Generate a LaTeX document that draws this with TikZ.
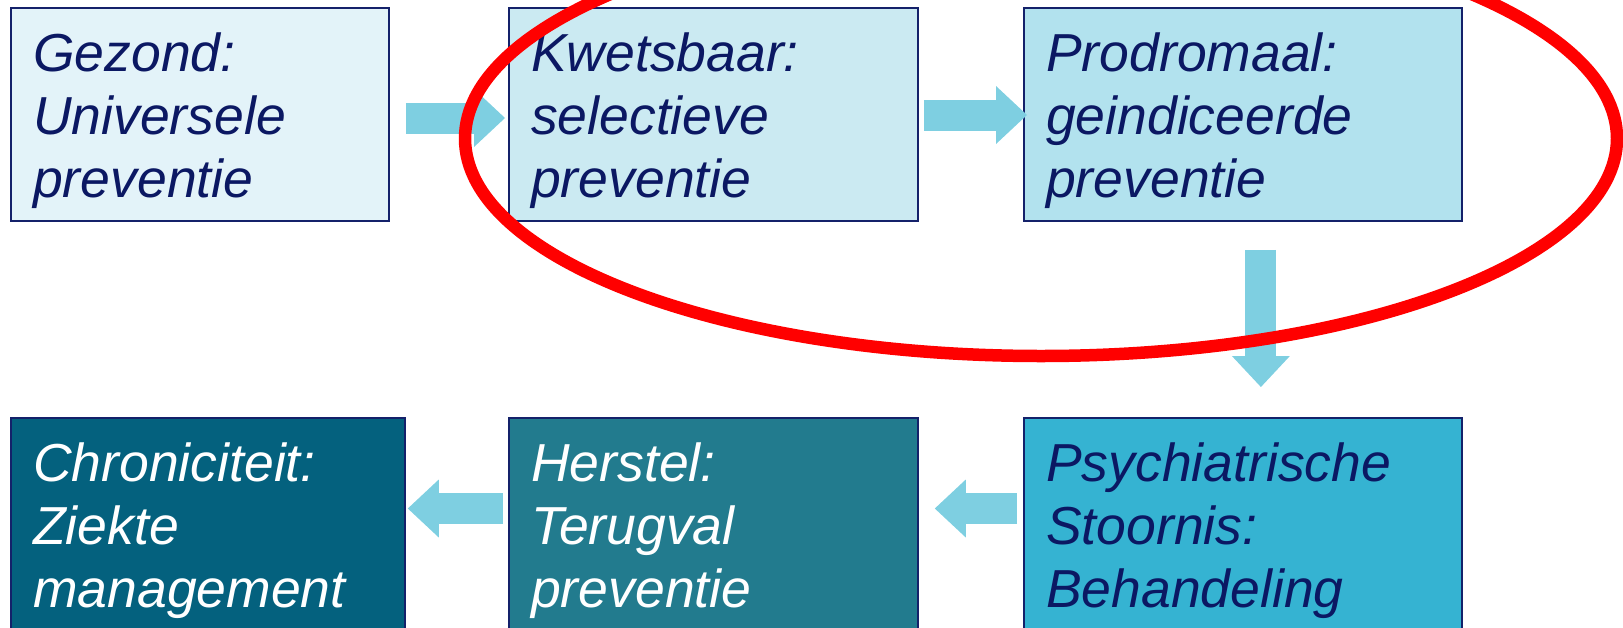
\documentclass[tikz,border=0pt]{standalone}
\usepackage{fontspec}
\setmainfont{Liberation Sans}
\usetikzlibrary{arrows.meta}
\definecolor{fillA}{HTML}{E3F3F9}
\definecolor{fillB}{HTML}{CBEAF2}
\definecolor{fillC}{HTML}{B2E2EE}
\definecolor{fillD}{HTML}{35B3D2}
\definecolor{fillE}{HTML}{227B8E}
\definecolor{fillF}{HTML}{04617E}
\definecolor{bordc}{HTML}{14216A}
\definecolor{navytxt}{HTML}{0B1863}
\definecolor{arrowc}{HTML}{7ECFE1}
\definecolor{ringred}{HTML}{FF0000}
\newcommand\lstr{\rule[-19pt]{0pt}{63pt}}
\tikzset{
  box/.style={draw=bordc, line width=1.8pt, anchor=north west, inner sep=0pt, rectangle},
  toprow/.style={minimum height=213pt},
  botrow/.style={minimum height=215pt},
  txt/.style={anchor=north west, inner sep=0pt, align=left,
    font=\fontsize{53.5}{63}\selectfont\itshape},
  blk/.style={draw=arrowc, line width=31pt, line cap=butt,
    -{Triangle[width=58pt, length=31pt, line width=0pt]}},
  ring/.style={draw=ringred, line width=12.5pt}
}
\begin{document}
\begin{tikzpicture}[x=1pt,y=-1pt]
\useasboundingbox (0,0) rectangle (1623,627);
\clip (0,0) rectangle (1623,627);
% boxes
\node[box, toprow, fill=fillA, minimum width=378pt] (b1) at (10,7) {};
\node[box, toprow, fill=fillB, minimum width=409pt] (b2) at (508,7) {};
\node[box, toprow, fill=fillC, minimum width=438pt] (b3) at (1023,7) {};
\node[box, botrow, fill=fillF, minimum width=394pt] (b4) at (10,417) {};
\node[box, botrow, fill=fillE, minimum width=409pt] (b5) at (508,417) {};
\node[box, botrow, fill=fillD, minimum width=438pt] (b6) at (1023,417) {};
% texts
\node[txt, text=navytxt] (t1) at ([shift={(23,20)}]b1.north west) {\lstr Gezond:\\\lstr Universele\\\lstr preventie};
\node[txt, text=navytxt] (t2) at ([shift={(23,20)}]b2.north west) {\lstr Kwetsbaar:\\\lstr selectieve\\\lstr preventie};
\node[txt, text=navytxt] (t3) at ([shift={(23,20)}]b3.north west) {\lstr Prodromaal:\\\lstr geindiceerde\\\lstr preventie};
\node[txt, text=white] (t4) at ([shift={(23,20)}]b4.north west) {\lstr Chroniciteit:\\\lstr Ziekte\\\lstr management};
\node[txt, text=white] (t5) at ([shift={(23,20)}]b5.north west) {\lstr Herstel:\\\lstr Terugval\\\lstr preventie};
\node[txt, text=navytxt] (t6) at ([shift={(23,20)}]b6.north west) {\lstr Psychiatrische\\\lstr Stoornis:\\\lstr Behandeling};
% arrows
\draw[blk] ([shift={(16,111)}]b1.north east) -- ([shift={(-3,111)}]b2.north west);
\draw[blk] ([shift={(5,108)}]b2.north east) -- ([shift={(4,108)}]b3.north west);
\draw[blk] ([shift={(18,28)}]b3.south) -- ([shift={(18,-30)}]b6.north);
\draw[blk] ([shift={(-6,91.5)}]b6.north west) -- ([shift={(16,91.5)}]b5.north east);
\draw[blk] ([shift={(-5,91.5)}]b5.north west) -- ([shift={(2,91.5)}]b4.north east);
% red ring
\draw[ring] (1041,138.5) ellipse [x radius=576, y radius=217.5];
\end{tikzpicture}
\end{document}
